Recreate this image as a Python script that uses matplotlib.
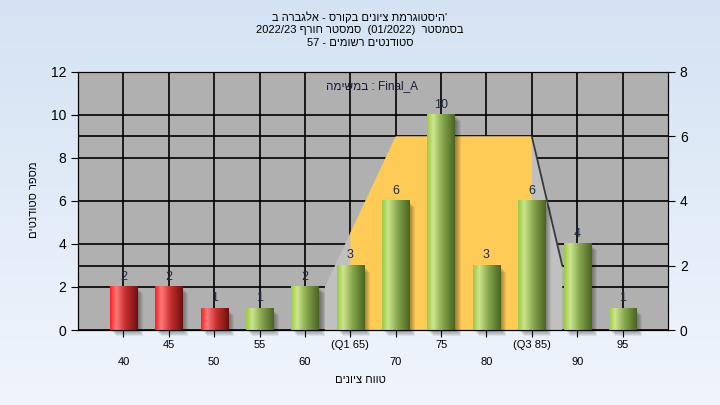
import numpy as np
import matplotlib
matplotlib.use("Agg")
import matplotlib.pyplot as plt
import matplotlib.transforms as mtransforms
from matplotlib.patches import Polygon, Rectangle
from matplotlib.colors import LinearSegmentedColormap

plt.rcParams['font.family'] = ['Liberation Sans', 'DejaVu Sans']

# Data
scores = [40, 45, 50, 55, 60, 65, 70, 75, 80, 85, 90, 95]
counts = [2, 2, 1, 1, 2, 3, 6, 10, 3, 6, 4, 1]
tick_labels = ['40', '45', '50', '55', '60', '(Q1 65)', '70', '75', '80', '(Q3 85)', '90', '95']
n_fail = 3  # first bars drawn in red

# distribution outline (category index, value on left axis)
area_x = [4.44, 6, 9, 9.67]
area_y = [2, 9, 9, 3]
q1_idx = 5
q3_idx = 9

# Hebrew strings written in visual (left-to-right) order
title_lines = [
    "ב הרבגלא - סרוקב םינויצ תמרגוטסיה'",
    "2022/23 ףרוח רטסמס  (01/2022)  רטסמסב",
    "57 - םימושר םיטנדוטס",
]
task_label = "המישמב : Final_A"
xlabel = "םינויצ חווט"
ylabel = "םיטנדוטס רפסמ"

fig = plt.figure(figsize=(7.2, 4.05), dpi=100)

# background gradient
bg = fig.add_axes([0, 0, 1, 1], zorder=-10)
top_c = np.array([212, 226, 243]) / 255
bot_c = np.array([240, 245, 252]) / 255
t = np.linspace(0, 1, 200)[:, None]
grad = top_c[None, :] * (1 - t) + bot_c[None, :] * t
bg.imshow(grad[:, None, :], aspect='auto', extent=(0, 1, 0, 1))
bg.axis('off')

ax = fig.add_axes([78 / 720, 1 - 330 / 405, 590 / 720, 258 / 405])
ax.set_facecolor('#B0B0B0')

# grid
for y in [0, 2, 3, 4, 6, 8, 9, 10, 12]:
    ax.axhline(y, color='black', lw=1.2, zorder=1)
for i in range(len(scores)):
    ax.axvline(i, color='black', lw=1.2, zorder=1)

# distribution area
poly = [(area_x[0], 0)] + list(zip(area_x, area_y)) + [(area_x[-1], 0)]
ax.add_patch(Polygon(poly, closed=True, facecolor='#C0C0C0', edgecolor='none', zorder=2))
y_q1 = np.interp(q1_idx, area_x, area_y)
y_q3 = np.interp(q3_idx, area_x, area_y)
inner = [(q1_idx, 0), (q1_idx, y_q1)]
inner += [(x, y) for x, y in zip(area_x, area_y) if q1_idx < x < q3_idx]
inner += [(q3_idx, y_q3), (q3_idx, 0)]
ax.add_patch(Polygon(inner, closed=True, facecolor='#FECB57', edgecolor='none', zorder=2))
ax.plot(area_x[-2:], area_y[-2:], color='#3a3a3a', lw=1.3, zorder=2.5)

# bars with cylinder shading
green = LinearSegmentedColormap.from_list('g', [(0, '#9CCB45'), (0.22, '#CDE58E'),
                                                (0.55, '#88A84E'), (1, '#4A6422')])
red = LinearSegmentedColormap.from_list('r', [(0, '#FF1E1E'), (0.22, '#FF7A7A'),
                                              (0.55, '#C83030'), (1, '#6E1010')])
ramp = np.linspace(0, 1, 100)[None, :]
w = 0.6
for i, c in enumerate(counts):
    for k in range(1, 7):
        tr = mtransforms.offset_copy(ax.transData, fig=fig, x=k, y=-k, units='dots')
        ax.add_patch(Rectangle((i - w / 2, 0), w, c, transform=tr, color='black',
                               alpha=0.07, zorder=3, clip_on=False, lw=0))
    cmap = red if i < n_fail else green
    ax.imshow(ramp, cmap=cmap, aspect='auto', extent=(i - w / 2, i + w / 2, 0, c), zorder=4)
    ax.text(i, c + 0.2, str(c), ha='center', va='bottom', fontsize=9,
            color='#1f2a44', zorder=6)

ax.set_xlim(-1, 12)
ax.set_ylim(0, 12)
ax.set_yticks(range(0, 13, 2))
ax.set_xticks(range(len(scores)))
ax.set_xticklabels([])
ax.tick_params(axis='both', direction='out', length=5, color='black', labelsize=10)
for sp in ax.spines.values():
    sp.set_color('black')

# alternating x labels
for i, lab in enumerate(tick_labels):
    off = -15 if i % 2 == 1 else -32
    ax.annotate(lab, xy=(i, 0), xycoords=('data', 'axes fraction'), xytext=(0, off),
                textcoords='offset pixels', ha='center', va='center', fontsize=8)

ax2 = ax.twinx()
ax2.set_ylim(0, 8)
ax2.set_yticks(range(0, 9, 2))
ax2.tick_params(axis='y', direction='out', length=5, color='black', labelsize=10)

ax.text(372 / 590 - 78 / 590, 1 - 14 / 258, task_label, transform=ax.transAxes,
        ha='center', va='center', fontsize=8.5, color='#1a1a3a', zorder=6)

for j, line in enumerate(title_lines):
    fig.text(0.5, 1 - (17 + 13 * j) / 405, line, ha='center', va='center', fontsize=8)

fig.text(360 / 720, 1 - 380 / 405, xlabel, ha='center', va='center', fontsize=8)
fig.text(34 / 720, 1 - 200 / 405, ylabel, ha='center', va='center', fontsize=8, rotation=90)

fig.savefig("out.png", dpi=100)
